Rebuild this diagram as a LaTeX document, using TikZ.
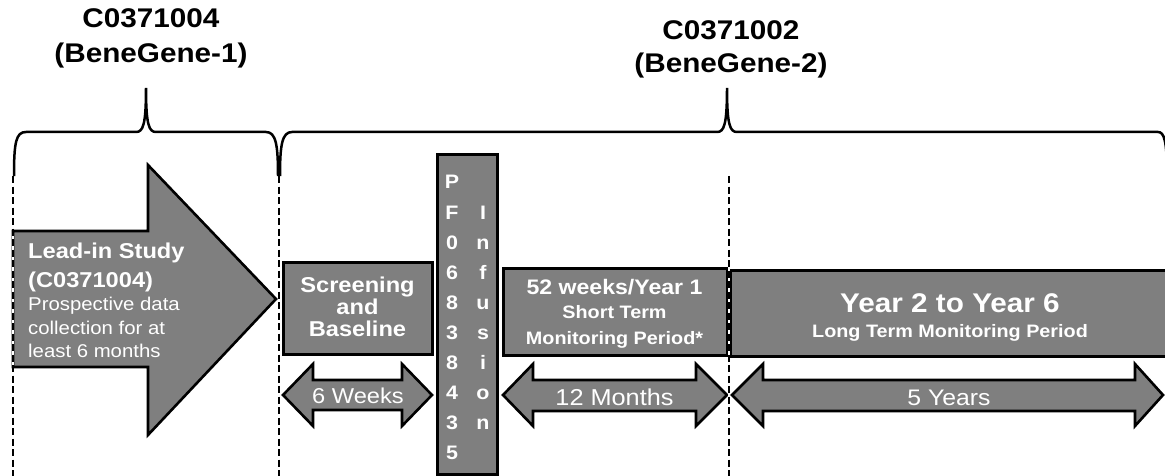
\documentclass[tikz,border=0pt]{standalone}
\usepackage{fontspec}
\setmainfont{Liberation Sans}[FakeStretch=1.1]
\newcommand\fsz[2]{\fontsize{#1}{#2}\selectfont}
\definecolor{boxgrey}{HTML}{7F7F7F}
\tikzset{
  greybox/.style={draw=black, line width=3pt, fill=boxgrey, inner sep=0pt},
  arrowshape/.style={draw=black, line width=2.6pt, fill=boxgrey, line join=miter},
  bracestyle/.style={draw=black, line width=2.5pt},
  guide/.style={black, line width=2.4pt, dash pattern=on 7pt off 3.5pt},
  guideunder/.style={white, line width=1.4pt},
  wtxt/.style={text=white, inner sep=0pt},
  btxt/.style={text=black, inner sep=0pt, font=\bfseries\fsz{27}{30}},
}
\begin{document}
\begin{tikzpicture}[x=1pt,y=-1pt]
\useasboundingbox (0,0) rectangle (1165,476);

% titles
\node[btxt, anchor=base] (t1a) at (151,28) {C0371004};
\node[btxt, anchor=base] (t1b) at (151,63) {(BeneGene-1)};
\node[btxt, anchor=base] (t2a) at (731,40) {C0371002};
\node[btxt, anchor=base] (t2b) at (731,73) {(BeneGene-2)};

% braces
\draw[bracestyle] (14,176) .. controls (14,142) and (16,132) .. (26,132) -- (136,132)
  .. controls (143,132) and (146,125) .. (146,88)
  .. controls (146,125) and (149,132) .. (156,132) -- (266,132)
  .. controls (276,132) and (278,145) .. (278,176);
\draw[bracestyle] (280,176) .. controls (280,145) and (282,132) .. (292,132) -- (717,132)
  .. controls (724,132) and (727,125) .. (727,88)
  .. controls (727,125) and (730,132) .. (737,132) -- (1158,132)
  .. controls (1164,132) and (1167,140) .. (1167,176);

% lead-in big arrow
\draw[arrowshape] (13,231) -- (148,231) -- (148,165) -- (276,299) -- (148,435)
  -- (148,367) -- (13,367) -- cycle;
\node[wtxt, anchor=base west, font=\bfseries\fsz{21.5}{24}] (l1) at (28,258) {Lead-in Study};
\node[wtxt, anchor=base west, font=\bfseries\fsz{21.5}{24}] (l2) at (28,287) {(C0371004)};
\node[wtxt, anchor=base west, font=\fsz{18.5}{22}] (l3) at (28,310) {Prospective data};
\node[wtxt, anchor=base west, font=\fsz{18.5}{22}] (l4) at (28,334) {collection for at};
\node[wtxt, anchor=base west, font=\fsz{18.5}{22}] (l5) at (28,357) {least 6 months};

% boxes
\node[greybox, minimum width=149pt, minimum height=92pt] (scr) at (357.5,308) {};
\node[greybox, minimum width=60pt, minimum height=319pt] (pf) at (467,314.5) {};
\node[greybox, minimum width=224pt, minimum height=87pt] (wk) at (615,311.5) {};
\node[greybox, minimum width=440pt, minimum height=86pt] (yr) at (950,313) {};

\node[wtxt, anchor=base, font=\bfseries\fsz{21.5}{24}] (s1) at (357.5,292) {Screening};
\node[wtxt, anchor=base, font=\bfseries\fsz{21.5}{24}] (s2) at (357.5,314) {and};
\node[wtxt, anchor=base, font=\bfseries\fsz{21.5}{24}] (s3) at (357.5,336) {Baseline};

\foreach \c [count=\i from 0] in {P,F,0,6,8,3,8,4,3,5}
  \node[wtxt, anchor=base, font=\bfseries\fsz{19.5}{22}] (pfa\i) at (452,{189+30*\i}) {\c};
\foreach \c [count=\i from 1] in {I,n,f,u,s,i,o,n}
  \node[wtxt, anchor=base, font=\bfseries\fsz{19.5}{22}] (pfb\i) at (483,{189+30*\i}) {\c};

\node[wtxt, anchor=base, font=\bfseries\fsz{21}{24}] (w1) at (614.5,294) {52 weeks/Year 1};
\node[wtxt, anchor=base, font=\bfseries\fsz{18}{22}] (w2) at (614.5,318) {Short Term};
\node[wtxt, anchor=base, font=\bfseries\fsz{18}{22}] (w3) at (614.5,344) {Monitoring Period*};

\node[wtxt, anchor=base, font=\bfseries\fsz{27}{30}] (y1) at (950,312) {Year 2 to Year 6};
\node[wtxt, anchor=base, font=\bfseries\fsz{18}{22}] (y2) at (950,337) {Long Term Monitoring Period};

% double arrows
\draw[arrowshape] (283,395) -- (313,364) -- (313,380) -- (402,380) -- (402,364) -- (432,395)
  -- (402,426) -- (402,410) -- (313,410) -- (313,426) -- cycle;
\draw[arrowshape] (503,395) -- (533,364) -- (533,380) -- (696,380) -- (696,364) -- (727,395)
  -- (696,426) -- (696,411) -- (533,411) -- (533,426) -- cycle;
\draw[arrowshape] (732,395) -- (763,364) -- (763,380) -- (1135,380) -- (1135,364) -- (1163,395)
  -- (1135,426) -- (1135,411) -- (763,411) -- (763,426) -- cycle;
\node[wtxt, anchor=base, font=\fsz{21.5}{24}] (a1) at (358,403) {6 Weeks};
\node[wtxt, anchor=base, font=\fsz{23}{26}] (a2) at (614.5,405) {12 Months};
\node[wtxt, anchor=base, font=\fsz{22.5}{26}] (a3) at (949,405) {5 Years};

% dashed guide lines
\coordinate (g1t) at (13,176); \coordinate (g1b) at (13,476);
\coordinate (g2t) at (279,176); \coordinate (g2b) at (279,476);
\coordinate (g3t) at (729,176); \coordinate (g3b) at (729,476);
\foreach \g in {g1,g2,g3} {
  \draw[guideunder] (\g t) -- (\g b);
  \draw[guide] (\g t) -- (\g b);
}
\end{tikzpicture}
\end{document}
